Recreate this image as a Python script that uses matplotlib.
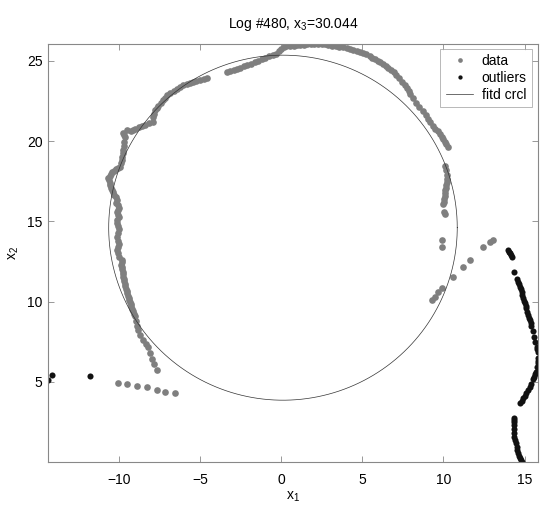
import numpy as np
import matplotlib
matplotlib.use("Agg")
import matplotlib.pyplot as plt

#===============================================================================
# data, (x1, x2) pairs grouped by stretch of the trace
data_lower_tail = [
    (-9.85, 12.60), (-9.83, 12.45), (-9.88, 12.30), (-9.84, 12.15), (-9.80, 12.00),
    (-9.79, 11.85), (-9.78, 11.70), (-9.75, 11.55), (-9.72, 11.40), (-9.69, 11.25),
    (-9.66, 11.10), (-9.63, 10.95), (-9.60, 10.80), (-9.55, 10.65), (-9.50, 10.50),
    (-9.46, 10.35), (-9.42, 10.20), (-9.38, 10.07), (-9.33, 9.95), (-9.29, 9.82),
    (-9.25, 9.70), (-9.20, 9.55), (-9.15, 9.40), (-9.10, 9.25), (-9.05, 9.10),
    (-8.98, 8.80), (-8.90, 8.50), (-8.84, 8.22), (-8.70, 7.90), (-8.53, 7.60),
    (-8.35, 7.35), (-8.22, 7.15), (-8.10, 6.80), (-7.98, 6.40), (-7.85, 6.10),
    (-7.70, 5.75),
]
data_lower_row = [
    (-10.07, 4.92), (-9.52, 4.86), (-8.90, 4.74), (-8.29, 4.67), (-7.67, 4.49),
    (-7.18, 4.36), (-6.56, 4.30),
]
data_left_arc = [
    (-10.00, 12.80), (-10.07, 13.00), (-10.12, 13.20), (-10.07, 13.40), (-10.02, 13.60),
    (-10.10, 13.80), (-10.14, 14.00), (-10.07, 14.27), (-10.03, 14.50), (-10.10, 14.70),
    (-10.16, 14.90), (-10.13, 15.08), (-10.04, 15.25), (-10.10, 15.40), (-10.15, 15.55),
    (-10.07, 15.70), (-10.02, 15.85), (-10.10, 16.00), (-10.18, 16.15), (-10.13, 16.32),
    (-10.22, 16.50), (-10.30, 16.65), (-10.38, 16.80), (-10.44, 16.95), (-10.50, 17.10),
    (-10.55, 17.25), (-10.60, 17.40), (-10.63, 17.57), (-10.68, 17.70), (-10.55, 17.85),
    (-10.50, 17.95), (-10.44, 18.07), (-10.32, 18.15), (-10.20, 18.25), (-10.08, 18.30),
    (-9.95, 18.38), (-9.90, 18.60), (-9.85, 18.80), (-9.80, 19.00), (-9.77, 19.25),
    (-9.75, 19.45), (-9.72, 19.70), (-9.68, 19.95), (-9.64, 20.25), (-9.70, 20.35),
    (-9.77, 20.50), (-9.54, 20.69), (-9.30, 20.62), (-9.15, 20.69), (-9.00, 20.75),
    (-8.80, 20.85), (-8.60, 20.92), (-8.40, 21.00), (-8.15, 21.12), (-7.92, 21.18),
]
data_upper_left = [
    (-7.92, 21.50), (-7.86, 21.70), (-7.80, 21.93), (-7.70, 22.05), (-7.60, 22.20),
    (-7.45, 22.40), (-7.30, 22.55), (-7.18, 22.70), (-7.05, 22.87), (-6.85, 23.00),
    (-6.65, 23.10), (-6.45, 23.25), (-6.25, 23.38), (-6.05, 23.47), (-5.85, 23.55),
    (-5.65, 23.62), (-5.45, 23.70), (-5.25, 23.76), (-5.00, 23.82), (-4.80, 23.88),
    (-4.60, 23.93),
]
data_top = [
    (-3.37, 24.32), (-3.15, 24.38), (-2.95, 24.45), (-2.75, 24.50), (-2.55, 24.58),
    (-2.32, 24.66), (-2.10, 24.75), (-1.88, 24.83), (-1.65, 24.92), (-1.42, 25.00),
    (-1.20, 25.10), (-0.98, 25.20), (-0.75, 25.28), (-0.52, 25.37), (-0.30, 25.45),
    (-0.15, 25.60), (0.00, 25.75), (0.15, 25.83), (0.30, 25.90), (0.52, 25.92),
    (0.75, 25.95), (0.95, 25.98), (1.15, 26.00), (1.38, 26.01), (1.60, 26.02),
    (1.80, 26.04), (2.00, 26.05), (2.25, 26.06), (2.50, 26.05), (2.70, 26.02),
    (2.90, 25.98), (3.12, 25.95), (3.35, 25.92), (3.58, 25.88), (3.80, 25.84),
    (4.02, 25.78), (4.25, 25.72), (4.45, 25.67), (4.65, 25.62), (4.85, 25.56),
    (5.05, 25.50), (5.25, 25.40), (5.45, 25.30), (5.62, 25.20), (5.80, 25.08),
    (5.95, 25.00), (6.10, 24.90), (6.28, 24.80), (6.45, 24.70), (6.60, 24.58),
    (6.75, 24.45), (6.92, 24.30),
]
data_upper_right = [
    (7.10, 24.10), (7.28, 23.90), (7.45, 23.70), (7.60, 23.50), (7.75, 23.30),
    (7.85, 23.10), (7.93, 22.90), (8.10, 22.65), (8.30, 22.40), (8.50, 22.15),
    (8.73, 21.90), (8.90, 21.65), (9.05, 21.40), (9.20, 21.18), (9.35, 20.95),
    (9.50, 20.78), (9.65, 20.60), (9.78, 20.42), (9.90, 20.25), (10.00, 20.10),
    (10.10, 19.95), (10.18, 19.80), (10.27, 19.63),
]
data_right_cluster = [
    (10.10, 18.45), (10.15, 18.20), (10.20, 17.90), (10.22, 17.65), (10.20, 17.45),
    (10.18, 17.28), (10.15, 17.10), (10.12, 16.92), (10.10, 16.75), (10.08, 16.58),
    (10.05, 16.40), (10.02, 16.22), (10.00, 16.05), (10.05, 15.60), (10.10, 15.45),
    (9.88, 13.83), (9.88, 13.41),
]
data_right_scatter = [
    (13.06, 13.83), (12.86, 13.73), (12.45, 13.41), (11.63, 12.59), (11.21, 12.17),
    (10.60, 11.55), (9.88, 10.82), (9.67, 10.61), (9.47, 10.30), (9.27, 10.09),
]

outliers_left = [(-14.37, 5.11), (-14.16, 5.42), (-11.80, 5.38)]
outliers_right = [
    (13.99, 13.21), (14.04, 13.10), (14.09, 13.00), (14.15, 12.90), (14.20, 12.79),
    (14.36, 11.86), (14.55, 11.40), (14.61, 11.23), (14.66, 11.08), (14.71, 10.92),
    (14.77, 10.77), (14.82, 10.61), (14.87, 10.40), (14.92, 10.20), (14.97, 10.05),
    (15.02, 9.89), (15.07, 9.73), (15.12, 9.58), (15.17, 9.37), (15.22, 9.16),
    (15.27, 9.00), (15.33, 8.85), (15.38, 8.66), (15.43, 8.47), (15.50, 8.15),
    (15.57, 7.81), (15.66, 7.50), (15.74, 7.18), (15.80, 7.02), (15.84, 6.87),
    (15.84, 6.46), (15.84, 6.30), (15.84, 6.15), (15.78, 5.90), (15.70, 5.63),
    (15.64, 5.48), (15.57, 5.32), (15.50, 5.15), (15.39, 4.85), (15.33, 4.69),
    (15.22, 4.48), (15.12, 4.28), (15.02, 4.12), (14.92, 3.97), (14.83, 3.80),
    (14.75, 3.66),
    (14.34, 2.72), (14.33, 2.60), (14.33, 2.50), (14.34, 2.31), (14.33, 2.05),
    (14.36, 1.79), (14.35, 1.58), (14.42, 1.37), (14.46, 1.16), (14.51, 0.95),
    (14.56, 0.75), (14.61, 0.54), (14.66, 0.38), (14.71, 0.23), (14.77, 0.10),
    (14.82, 0.02),
]

# fitted circle
circle_cx = 0.1
circle_cy = 14.6
circle_r = 10.75

#===============================================================================
data = np.array(data_lower_tail + data_lower_row + data_left_arc + data_upper_left
                + data_top + data_upper_right + data_right_cluster + data_right_scatter)
outliers = np.array(outliers_left + outliers_right)

plt.rcParams["font.family"] = ["Liberation Sans", "DejaVu Sans"]
plt.rcParams["mathtext.fontset"] = "custom"
plt.rcParams["mathtext.rm"] = "Liberation Sans"
plt.rcParams["mathtext.it"] = "Liberation Sans"

fig = plt.figure(figsize=(5.48, 5.14), dpi=100)
ax = fig.add_axes([0.088, 0.1012, 0.894, 0.8124])

ax.plot(data[:, 0], data[:, 1], "o", color="#7f7f7f", markersize=4.8,
        markeredgewidth=0, label="data")
ax.plot(outliers[:, 0], outliers[:, 1], "o", color="#111111", markersize=4.4,
        markeredgewidth=0, label="outliers")

theta = np.linspace(0, 2 * np.pi, 400)
ax.plot(circle_cx + circle_r * np.cos(theta), circle_cy + circle_r * np.sin(theta),
        color="#333333", linewidth=0.5, label="fitd crcl")

ax.set_xlim(-14.38, 15.84)
ax.set_ylim(0.0, 26.02)
ax.set_xticks([-10, -5, 0, 5, 10, 15])
ax.set_yticks([5, 10, 15, 20, 25])

ax.tick_params(direction="in", length=4, width=0.6, color="#888888",
               labelsize=10, top=True, right=True)
ax.tick_params(axis="x", pad=8)
ax.tick_params(axis="y", pad=4)
for spine in ax.spines.values():
    spine.set_color("#888888")
    spine.set_linewidth(0.8)

ax.set_title("Log #480, x$_3$=30.044", fontsize=10, pad=12)
ax.set_xlabel("x$_1$", fontsize=10, labelpad=2)
ax.set_ylabel("x$_2$", fontsize=10, labelpad=4)

leg = ax.legend(loc="upper left", bbox_to_anchor=(0.80, 0.99), fontsize=10,
                frameon=True, fancybox=False, borderaxespad=0, labelspacing=0.2,
                handlelength=2.0, handletextpad=0.6, borderpad=0.4, markerscale=0.7)
leg.get_frame().set_edgecolor("#999999")
leg.get_frame().set_linewidth(0.6)

fig.savefig("out.png", dpi=100)
